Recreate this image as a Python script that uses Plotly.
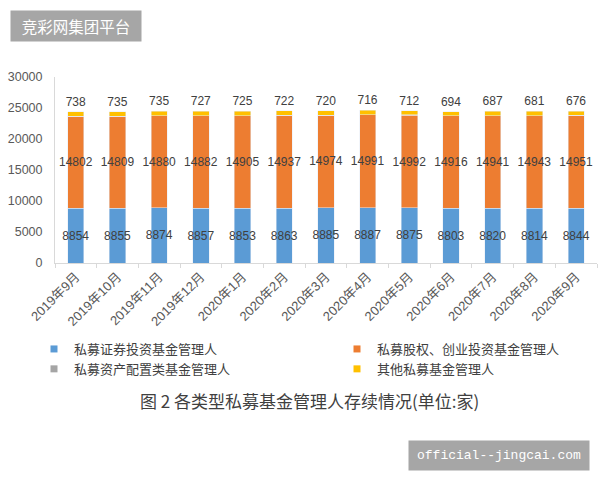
import plotly.graph_objects as go

months = ["2019年9月", "2019年10月", "2019年11月", "2019年12月", "2020年1月", "2020年2月",
          "2020年3月", "2020年4月", "2020年5月", "2020年6月", "2020年7月", "2020年8月", "2020年9月"]
securities = [8854, 8855, 8874, 8857, 8853, 8863, 8885, 8887, 8875, 8803, 8820, 8814, 8844]
equity_vc = [14802, 14809, 14880, 14882, 14905, 14937, 14974, 14991, 14992, 14916, 14941, 14943, 14951]
asset_alloc = [9, 9, 9, 9, 9, 9, 9, 9, 9, 9, 9, 9, 9]
others = [738, 735, 735, 727, 725, 722, 720, 716, 712, 694, 687, 681, 676]

names = ["私募证券投资基金管理人", "私募股权、创业投资基金管理人", "私募资产配置类基金管理人", "其他私募基金管理人"]
colors = ["#5B9BD5", "#ED7D31", "#A5A5A5", "#FFC000"]
label_font = dict(family="Liberation Sans, Arial, sans-serif", size=12, color="#404040")

W, H = 600, 480
L, R, T, B = 55, 3, 77, 217
PW, PH = W - L - R, H - T - B


def px(x):
    return (x - L) / PW


def py(y):
    return (H - B - y) / PH


fig = go.Figure()
fig.add_trace(go.Bar(x=months, y=securities, name=names[0], marker_color=colors[0],
                     text=securities, textposition="inside", insidetextanchor="middle",
                     textangle=0, constraintext="none", insidetextfont=label_font,
                     showlegend=False))
fig.add_trace(go.Bar(x=months, y=equity_vc, name=names[1], marker_color=colors[1],
                     text=equity_vc, textposition="inside", insidetextanchor="middle",
                     textangle=0, constraintext="none", insidetextfont=label_font,
                     showlegend=False))
fig.add_trace(go.Bar(x=months, y=asset_alloc, name=names[2], marker_color=colors[2],
                     textposition="none", showlegend=False))
fig.add_trace(go.Bar(x=months, y=others, name=names[3], marker_color=colors[3],
                     text=others, textposition="outside", textangle=0, constraintext="none",
                     outsidetextfont=label_font, cliponaxis=False, showlegend=False))

# legend entries with small square swatches (as in the original)
legend_map = ["legend", "legend2", "legend", "legend2"]
for name, color, lg in zip(names, colors, legend_map):
    fig.add_trace(go.Scatter(x=[None], y=[None], mode="markers", name=name,
                             marker=dict(symbol="square", size=7, color=color),
                             legend=lg, showlegend=True, hoverinfo="skip"))

legend_font = dict(family="Noto Sans CJK SC", size=13, color="#404040")
fig.update_layout(
    barmode="stack",
    bargap=0.61,
    width=W, height=H,
    margin=dict(l=L, r=R, t=T, b=B),
    paper_bgcolor="white", plot_bgcolor="white",
    font=dict(family="Liberation Sans, Noto Sans CJK SC, sans-serif", color="#595959"),
    showlegend=True,
    legend=dict(orientation="v", x=px(34), y=py(334), xanchor="left", yanchor="top",
                itemwidth=30, traceorder="normal", font=legend_font, tracegroupgap=0,
                bgcolor="rgba(0,0,0,0)"),
    legend2=dict(orientation="v", x=px(337), y=py(334), xanchor="left", yanchor="top",
                 itemwidth=30, traceorder="normal", font=legend_font, tracegroupgap=0,
                 bgcolor="rgba(0,0,0,0)"),
)
fig.update_yaxes(range=[0, 30000], dtick=5000, tickformat="d", showgrid=False, showline=True,
                 linecolor="#D9D9D9", linewidth=1, ticks="", zeroline=False,
                 tickfont=dict(size=12.5, color="#595959"), ticklabelstandoff=9)
fig.update_xaxes(showline=True, linecolor="#D9D9D9", linewidth=1, tickangle=-45,
                 ticks="outside", tickson="boundaries", ticklen=4, tickcolor="#D9D9D9",
                 tickfont=dict(family="Liberation Sans, Noto Sans CJK SC", size=13, color="#595959"))

fig.add_annotation(xref="paper", yref="paper", x=px(309), y=py(400), xanchor="center", yanchor="middle",
                   text="图 2 各类型私募基金管理人存续情况(单位:家)", showarrow=False,
                   font=dict(family="Noto Sans CJK SC", size=17, color="#404040"))
fig.add_annotation(xref="paper", yref="paper", x=px(10), y=py(10), xanchor="left", yanchor="top",
                   text="竞彩网集团平台", showarrow=False, bgcolor="#A6A6A6",
                   width=122, height=22, align="center", valign="middle",
                   font=dict(family="Noto Sans CJK SC", size=15.5, color="white"),
                   borderpad=4)
fig.add_annotation(xref="paper", yref="paper", x=px(590), y=py(440), xanchor="right", yanchor="top",
                   text="official--jingcai.com", showarrow=False, bgcolor="#A6A6A6",
                   width=172, height=21, align="center", valign="middle",
                   font=dict(family="Liberation Mono, monospace", size=13, color="white"),
                   borderpad=4)

fig.write_html("out.html")
